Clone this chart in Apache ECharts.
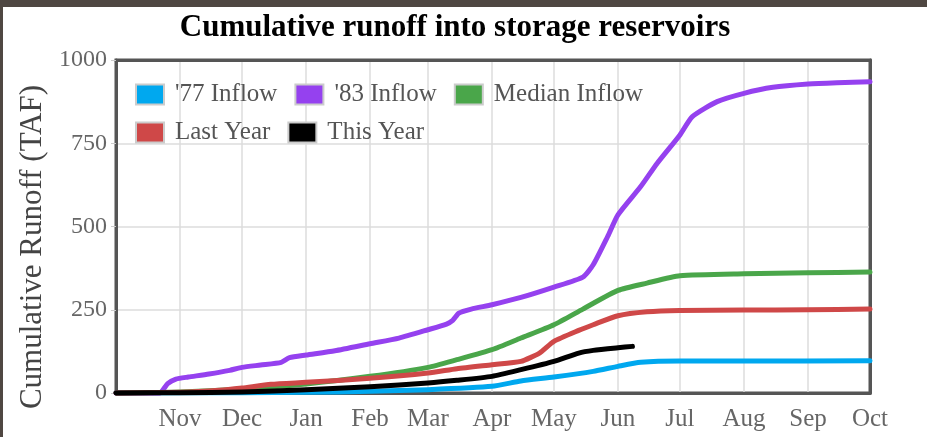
<!DOCTYPE html>
<html>
<head>
<meta charset="utf-8">
<title>Cumulative runoff into storage reservoirs</title>
<script src="https://cdn.jsdelivr.net/npm/echarts@6/dist/echarts.min.js"></script>
<style>
    html, body { margin: 0; padding: 0; }
    body { background: #4f4742; width: 927px; height: 437px; overflow: hidden; position: relative; }
    #chart { position: absolute; left: 3px; top: 7px; width: 924px; height: 430px; background: #fff; }
</style>
</head>
<body>
<div id="chart"></div>
<script>
// series names (legend order)
var seriesNames = ["'77 Inflow", "'83 Inflow", 'Median Inflow', 'Last Year', 'This Year'];
var seriesColors = ['#00a8ef', '#9541ef', '#4aa64a', '#cf4848', '#000000'];

// axis range
var xStart = '2022-10-01';
var xEnd = '2023-10-01';
var yTicks = [0, 250, 500, 750, 1000];

// '77 inflow
var inflow77 = [
    ['2022-10-01', 0], ['2022-12-01', 1], ['2023-01-01', 2], ['2023-02-01', 5],
    ['2023-03-01', 10], ['2023-04-01', 20], ['2023-04-15', 36], ['2023-05-01', 48],
    ['2023-05-20', 65], ['2023-06-01', 80], ['2023-06-12', 92], ['2023-07-01', 96],
    ['2023-08-01', 96], ['2023-10-01', 97]
];
// '83 inflow
var inflow83 = [
    ['2022-10-01', 0], ['2022-10-22', 0], ['2022-10-26', 28], ['2022-10-30', 42],
    ['2022-11-05', 48], ['2022-11-15', 57], ['2022-11-25', 68], ['2022-12-01', 77],
    ['2022-12-10', 84], ['2022-12-20', 92], ['2022-12-24', 106], ['2023-01-01', 114],
    ['2023-01-15', 127], ['2023-02-01', 148], ['2023-02-15', 165], ['2023-03-01', 190],
    ['2023-03-10', 207], ['2023-03-13', 218], ['2023-03-16', 240], ['2023-03-22', 252],
    ['2023-04-01', 265], ['2023-04-15', 287], ['2023-05-01', 318], ['2023-05-15', 348],
    ['2023-05-20', 385], ['2023-05-27', 470], ['2023-06-01', 535], ['2023-06-12', 620],
    ['2023-06-20', 690], ['2023-07-01', 775], ['2023-07-07', 830], ['2023-07-19', 875],
    ['2023-08-01', 900], ['2023-08-15', 918], ['2023-09-01', 928], ['2023-09-15', 932],
    ['2023-10-01', 935]
];
// median inflow
var medianInflow = [
    ['2022-10-01', 0], ['2022-11-01', 3], ['2022-12-01', 12], ['2023-01-01', 27],
    ['2023-02-01', 50], ['2023-03-01', 77], ['2023-03-15', 100], ['2023-04-01', 130],
    ['2023-04-15', 165], ['2023-05-01', 205], ['2023-05-15', 252], ['2023-06-01', 308],
    ['2023-06-15', 330], ['2023-07-01', 352], ['2023-08-01', 358], ['2023-09-01', 361],
    ['2023-10-01', 363]
];
// last year
var lastYear = [
    ['2022-10-01', 0], ['2022-11-01', 2], ['2022-11-20', 8], ['2022-12-01', 15],
    ['2022-12-15', 26], ['2023-01-01', 32], ['2023-02-01', 44], ['2023-03-01', 60],
    ['2023-03-15', 73], ['2023-04-01', 85], ['2023-04-15', 95], ['2023-04-24', 120],
    ['2023-05-01', 155], ['2023-05-13', 188], ['2023-05-20', 205], ['2023-06-01', 232],
    ['2023-06-15', 244], ['2023-07-01', 248], ['2023-08-01', 249], ['2023-09-01', 250],
    ['2023-10-01', 252]
];
// this year
var thisYear = [
    ['2022-10-01', 0], ['2022-11-01', 1], ['2022-12-01', 3], ['2023-01-01', 10],
    ['2023-02-01', 19], ['2023-03-01', 30], ['2023-03-15', 38], ['2023-04-01', 50],
    ['2023-04-15', 70], ['2023-05-01', 95], ['2023-05-13', 120], ['2023-05-20', 128],
    ['2023-06-01', 136], ['2023-06-08', 140]
];

var allData = [inflow77, inflow83, medianInflow, lastYear, thisYear];
var serif = '"Liberation Serif", "Times New Roman", serif';
var monthNames = ['Jan', 'Feb', 'Mar', 'Apr', 'May', 'Jun', 'Jul', 'Aug', 'Sep', 'Oct', 'Nov', 'Dec'];
var startTime = echarts.time.parse(xStart).getTime();

function makeSeries() {
    var list = [];
    for (var i = 0; i < seriesNames.length; i++) {
        list.push({
            name: seriesNames[i],
            type: 'line',
            data: allData[i],
            showSymbol: false,
            smooth: 0.2,
            clip: false,
            color: seriesColors[i],
            lineStyle: { width: 5, color: seriesColors[i], cap: 'round', join: 'round' },
            emphasis: { disabled: true }
        });
    }
    return list;
}

// legend is drawn as two rows
function makeLegend(names, top) {
    return {
        data: names,
        left: 132,
        top: top,
        padding: 0,
        icon: 'rect',
        itemWidth: 28,
        itemHeight: 20,
        itemGap: 17,
        itemStyle: { borderColor: '#cccccc', borderWidth: 2 },
        textStyle: { fontFamily: serif, fontSize: 25, color: '#555', padding: [0, 3, 0, 6] },
        selectedMode: false
    };
}

var borderLine = { show: true, onZero: false, lineStyle: { color: '#555', width: 3 } };

var myChart = echarts.init(document.getElementById('chart'));
myChart.setOption({
    animation: false,
    color: seriesColors,
    title: {
        text: 'Cumulative runoff into storage reservoirs',
        left: 452,
        textAlign: 'center',
        top: 3,
        padding: 0,
        textStyle: { fontFamily: serif, fontSize: 31, fontWeight: 'bold', color: '#000', lineHeight: 36 }
    },
    legend: [
        makeLegend(seriesNames.slice(0, 3), 75),
        makeLegend(seriesNames.slice(3), 113)
    ],
    graphic: [{
        type: 'text',
        x: 30,
        y: 240,
        rotation: Math.PI / 2,
        style: {
            text: 'Cumulative Runoff (TAF)',
            font: '31px ' + serif,
            fill: '#444',
            textAlign: 'center',
            textVerticalAlign: 'middle'
        }
    }],
    grid: {
        left: 113,
        right: 57,
        top: 53,
        bottom: 44,
        show: true,
        borderColor: '#555',
        borderWidth: 3,
        containLabel: false,
        outerBoundsMode: 'none'
    },
    xAxis: [{
        type: 'time',
        min: xStart,
        max: xEnd,
        minInterval: 28 * 86400000,
        maxInterval: 31 * 86400000,
        axisLine: borderLine,
        axisTick: { show: false },
        splitLine: { show: true, lineStyle: { color: '#dcdcdc', width: 1.5 } },
        axisLabel: {
            formatter: function (value) {
                if (value <= startTime) return '';
                return monthNames[new Date(value).getMonth()];
            },
            hideOverlap: false,
            fontFamily: serif,
            fontSize: 25,
            color: '#666',
            margin: 14
        }
    }, {
        type: 'time',
        position: 'top',
        min: xStart,
        max: xEnd,
        axisLine: borderLine,
        axisTick: { show: false },
        axisLabel: { show: false },
        splitLine: { show: false }
    }],
    yAxis: [{
        type: 'value',
        min: yTicks[0],
        max: yTicks[yTicks.length - 1],
        interval: 250,
        axisLine: borderLine,
        axisTick: { show: true, length: 5, lineStyle: { color: '#ccc' } },
        splitLine: { show: true, lineStyle: { color: '#dcdcdc', width: 1.5 } },
        axisLabel: {
            fontFamily: serif, fontSize: 24, color: '#666', margin: 9,
            formatter: function (v) { return String(v); }
        }
    }, {
        type: 'value',
        position: 'right',
        min: yTicks[0],
        max: yTicks[yTicks.length - 1],
        interval: 250,
        axisLine: borderLine,
        axisTick: { show: false },
        axisLabel: { show: false },
        splitLine: { show: false }
    }],
    series: makeSeries()
});
</script>
</body>
</html>
